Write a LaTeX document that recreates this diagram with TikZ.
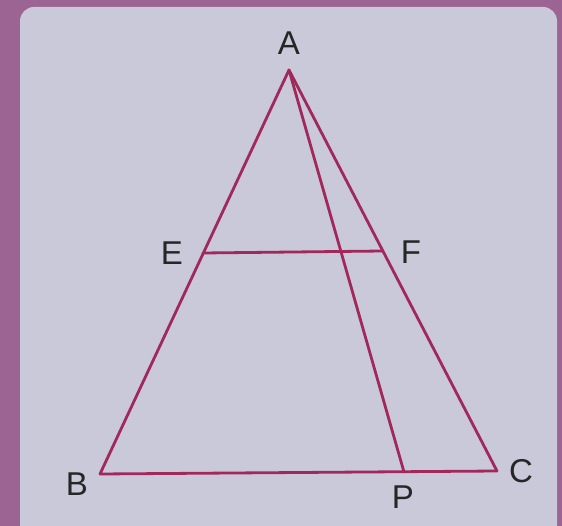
\documentclass[tikz,border=0pt]{standalone}
\usepackage{fontspec}
\setmainfont{Liberation Sans}
\begin{document}
\begin{tikzpicture}[x=1pt,y=-1pt,
  seg/.style={draw=linecol,line width=2.8pt,line join=round,line cap=round},
  lbl/.style={text=black!85,font=\fontsize{33}{36}\selectfont,inner sep=0pt}]
\definecolor{linecol}{HTML}{A0285A}
\definecolor{bordercol}{HTML}{9C6492}
\definecolor{panelcol}{HTML}{C9C9D9}
\useasboundingbox (0,0) rectangle (562,526);
\fill[bordercol] (0,0) rectangle (562,526);
\fill[panelcol,rounded corners=14pt] (20,7) rectangle (557,540);
\coordinate (A) at (289,70);
\coordinate (B) at (100,474);
\coordinate (C) at (497,471);
\coordinate (P) at (404,472);
\coordinate (E) at (203,253);
\coordinate (F) at (383,251);
\draw[seg] (A) -- (B) -- (C) -- cycle;
\draw[seg] (A) -- (P);
\draw[seg] (E) -- (F);
\node[lbl] (lA) at (289,43) {A};
\node[lbl] (lB) at (77,484) {B};
\node[lbl] (lC) at (521,471) {C};
\node[lbl] (lP) at (403,497) {P};
\node[lbl] (lE) at (172,253) {E};
\node[lbl] (lF) at (411,252) {F};
\end{tikzpicture}
\end{document}
